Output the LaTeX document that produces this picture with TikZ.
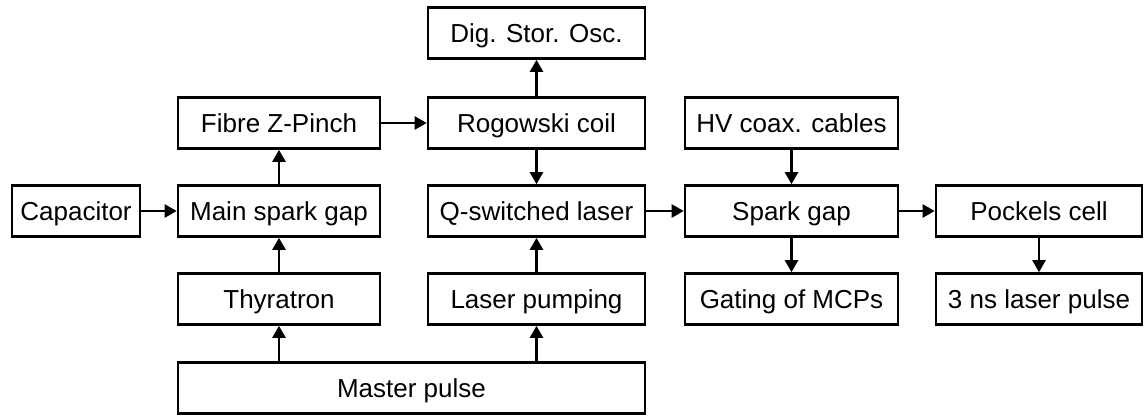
\documentclass[tikz,border=0pt]{standalone}
\usepackage{fontspec}
\setmainfont{Liberation Sans}
\usetikzlibrary{arrows.meta}
\begin{document}
\begin{tikzpicture}[x=1pt,y=-1pt,
  box/.style={draw=black,line width=2.6pt,minimum height=51pt,inner sep=0pt,
    text height=18.6pt,text depth=0pt,
    font=\fontsize{26}{30}\selectfont,fill=white},
  arr/.style={line width=2.4pt,-{Triangle[length=12pt,width=13pt]}}]
\useasboundingbox (0,0) rectangle (1144,416);
\node[box,minimum width=128pt] (cap) at (76,211) {Capacitor};
\node[box,minimum width=202pt] (fzp) at (279,123) {Fibre Z-Pinch};
\node[box,minimum width=202pt] (msg) at (279,211) {Main spark gap};
\node[box,minimum width=202pt] (thy) at (279,299) {Thyratron};
\node[box,minimum width=217pt] (dso) at (536.5,33) {Dig. Stor. Osc.};
\node[box,minimum width=217pt] (rog) at (536.5,123) {Rogowski coil};
\node[box,minimum width=217pt] (qsl) at (536.5,211) {Q-switched laser};
\node[box,minimum width=217pt] (lp) at (536.5,299) {Laser pumping};
\node[box,minimum width=467pt] (mp) at (411.5,388) {Master pulse};
\node[box,minimum width=213pt] (hv) at (791.5,123) {HV coax. cables};
\node[box,minimum width=213pt] (sg) at (791.5,211) {Spark gap};
\node[box,minimum width=213pt] (gm) at (791.5,299) {Gating of MCPs};
\node[box,minimum width=206pt] (pc) at (1039,211) {Pockels cell};
\node[box,minimum width=206pt] (ns) at (1039,299) {3 ns laser pulse};
\draw[arr] (cap.east) -- (msg.west);
\draw[arr] (msg.north) -- (fzp.south);
\draw[arr] (fzp.east) -- (rog.west);
\draw[arr] (rog.north) -- (dso.south);
\draw[arr] (rog.south) -- (qsl.north);
\draw[arr] (thy.north) -- (msg.south);
\draw[arr] (lp.north) -- (qsl.south);
\draw[arr] (thy.south |- mp.north) -- (thy.south);
\draw[arr] (lp.south |- mp.north) -- (lp.south);
\draw[arr] (qsl.east) -- (sg.west);
\draw[arr] (hv.south) -- (sg.north);
\draw[arr] (sg.east) -- (pc.west);
\draw[arr] (sg.south) -- (gm.north);
\draw[arr] (pc.south) -- (ns.north);
\end{tikzpicture}
\end{document}
